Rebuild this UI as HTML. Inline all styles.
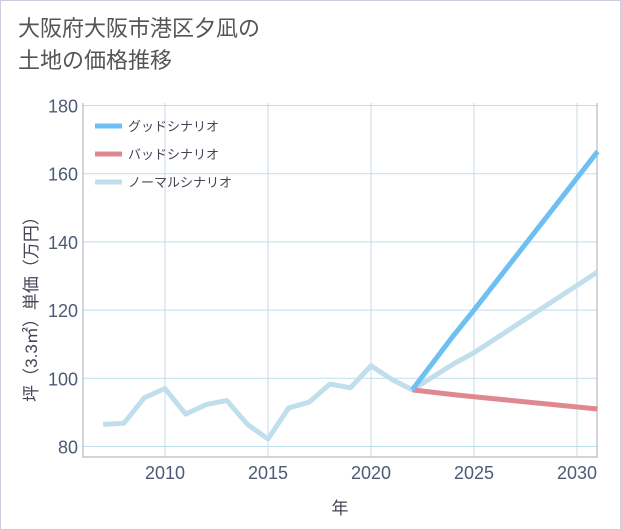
<!DOCTYPE html>
<html><head><meta charset="utf-8"><style>
body{margin:0;background:#fff;font-family:"Liberation Sans","Noto Sans CJK JP",sans-serif;}
#wrap{position:relative;width:619px;height:528px;border:1px solid #ccd;background:#fff;}
.title{position:absolute;left:17px;top:12px;font-size:22px;line-height:32px;color:#555;}
</style></head><body>
<div id="wrap">
<div class="title">大阪府大阪市港区夕凪の<br>土地の価格推移</div>
<svg id="c" width="621" height="530" style="position:absolute;left:-1px;top:-1px"></svg>
</div>
<script>
const years=[2007,2008,2009,2010,2011,2012,2013,2014,2015,2016,2017,2018,2019,2020,2021,2022];
const normalHist=[86.5,86.8,94.3,97,89.5,92.3,93.5,86.5,82.2,91.3,93,98.3,97.2,103.7,99.7,96.6];
const futYears=[2022,2024,2025,2031];
const goodVals=[96.6,112.5,120,166.5];
const badVals=[96.6,95.2,94.6,91];
const normVals=[96.6,104.2,107.5,131.2];
const yTicks=[80,100,120,140,160,180];
const xTicks=[2010,2015,2020,2025,2030];
const L=83,R=597,T=103,B=457;
const x=v=>165+(v-2010)*20.6;
const y=v=>446.5-(v-80)*3.41;
const s=document.getElementById('c');const NS='http://www.w3.org/2000/svg';
function el(t,a,txt){const e=document.createElementNS(NS,t);for(const k in a)e.setAttribute(k,a[k]);if(txt!=null)e.textContent=txt;s.appendChild(e);return e;}
yTicks.forEach(v=>{
const g=el('line',{x1:L,x2:R,y1:y(v),y2:y(v),stroke:'#bfe0ea','stroke-width':1});


const t=el('text',{x:L-5,y:y(v)+7,'text-anchor':'end','font-size':18,fill:'#4d5a75'},v);


});
xTicks.forEach(v=>{
const g=el('line',{x1:x(v),x2:x(v),y1:T,y2:B,stroke:'#c8dbe6','stroke-width':1});


const t=el('text',{x:x(v),y:B+22,'text-anchor':'middle','font-size':18,fill:'#4d5a75'},v);


});
const ax=el('path',{d:`M${L} ${T}V${B}H${R}V${T}`,fill:'none',stroke:'#aab','stroke-width':1});


function line(xs,vs,col,name){
const p=el('polyline',{points:xs.map((v,i)=>x(v)+','+y(vs[i])).join(' '),fill:'none',stroke:col,'stroke-width':5,'stroke-linejoin':'round'});


}
line(years,normalHist,'#c0dfec','normal-history-line');
line(futYears,normVals,'#c0dfec','normal-scenario-line');
line(futYears,badVals,'#e08890','bad-scenario-line');
line(futYears,goodVals,'#6ebff2','good-scenario-line');
const leg=[['グッドシナリオ','#6ebff2'],['バッドシナリオ','#e08890'],['ノーマルシナリオ','#c0dfec']];
leg.forEach((d,i)=>{
const ly=126+i*28;
const l=el('line',{x1:95,x2:122,y1:ly,y2:ly,stroke:d[1],'stroke-width':5});


const t=el('text',{x:128,y:ly+5,'font-size':13,fill:'#445'},d[0]);


});
const xt=el('text',{x:340,y:514,'text-anchor':'middle','font-size':17,fill:'#445'},'年');


const yt=el('text',{x:0,y:0,'text-anchor':'middle','font-size':17,fill:'#445',transform:'translate(37,305) rotate(-90)'},'坪（3.3㎡）単価（万円）');


</script>
</body></html>
